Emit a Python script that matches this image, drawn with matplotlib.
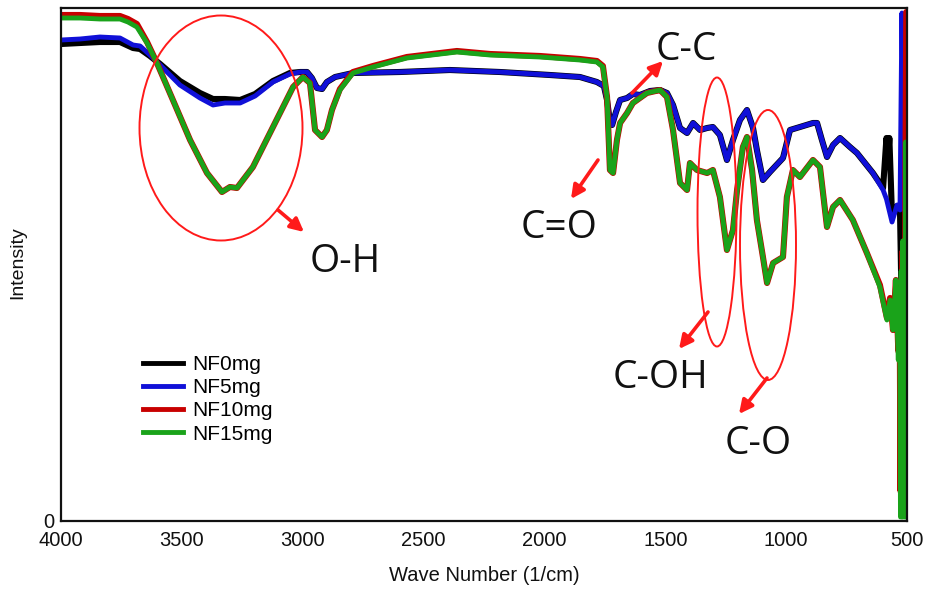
import matplotlib
matplotlib.use("Agg")
import matplotlib.pyplot as plt
from matplotlib.patches import Ellipse

# ---------------- data ----------------
# wavenumber grid for NF0mg / NF5mg (1/cm)
wn_upper = [4000, 3921, 3839, 3756, 3702, 3673, 3632, 3590, 3508, 3425, 3371, 3322,
            3259, 3197, 3123, 3053, 3011, 2982, 2962, 2941, 2920, 2900, 2866, 2792,
            2598, 2391, 2184, 1977, 1853, 1783, 1754, 1741, 1729, 1720, 1704, 1687,
            1658, 1634, 1605, 1563, 1522, 1493, 1468, 1439, 1410, 1385, 1356, 1327,
            1303, 1274, 1245, 1220, 1191, 1162, 1137, 1121, 1096, 1067, 1013, 984,
            943, 889, 872, 852, 831, 806, 777, 736, 707, 641, 599, 585, 579, 573,
            562, 541, 529, 521, 512, 505, 500]
nf0 = [477, 478, 479, 479, 473, 472, 465, 457, 440, 428, 422, 422,
       421, 427, 440, 448, 449, 449, 443, 433, 432, 439, 444, 448,
       449, 451, 449, 446, 444, 439, 435, 421, 399, 396, 409, 421,
       423, 427, 426, 430, 431, 428, 416, 393, 388, 398, 391, 393,
       394, 386, 361, 381, 401, 411, 393, 371, 341, 349, 363, 391,
       394, 398, 398, 381, 364, 376, 383, 374, 368, 348, 333, 383, 360, 383,
       305, 315, 310, 200, 41, 150, 280]
nf5 = [481, 482, 484, 483, 476, 475, 466, 456, 436, 423, 416, 418,
       418, 425, 439, 447, 449, 449, 443, 433, 432, 439, 444, 448,
       449, 451, 449, 446, 444, 439, 435, 421, 399, 396, 409, 421,
       423, 427, 426, 430, 431, 428, 416, 393, 388, 398, 391, 393,
       394, 386, 361, 381, 401, 411, 393, 371, 341, 349, 363, 391,
       394, 398, 398, 381, 364, 376, 383, 374, 368, 348, 331, 322, 316, 310,
       299, 316, 311, 508, 316, 305, 311]

# wavenumber grid for NF10mg / NF15mg (1/cm)
wn_lower = [4000, 3921, 3839, 3756, 3723, 3686, 3644, 3603, 3537, 3466, 3396, 3334,
            3301, 3272, 3206, 3123, 3040, 2999, 2970, 2949, 2920, 2900, 2879, 2846,
            2792, 2709, 2569, 2362, 2225, 2018, 1853, 1783, 1758, 1741, 1729, 1716,
            1700, 1687, 1658, 1634, 1576, 1522, 1493, 1468, 1439, 1410, 1398, 1369,
            1327, 1303, 1274, 1245, 1220, 1203, 1179, 1162, 1141, 1121, 1096, 1079,
            1054, 1013, 997, 972, 943, 889, 860, 831, 806, 777, 724, 666, 612, 583,
            570, 558, 546, 536, 530, 527, 524, 521, 518, 515, 512, 509, 506, 503,
            500]
nf10 = [506, 506, 505, 505, 502, 497, 479, 458, 421, 381, 348, 329,
        334, 333, 354, 394, 434, 444, 438, 391, 384, 391, 411, 432,
        449, 455, 464, 470, 467, 465, 462, 460, 455, 424, 351, 348,
        381, 398, 408, 418, 428, 431, 424, 391, 338, 331, 358, 351,
        348, 351, 324, 271, 291, 331, 374, 384, 351, 301, 264, 238,
        258, 264, 324, 351, 344, 361, 354, 294, 314, 321, 301, 268, 236, 203,
        223, 191, 241, 170, 200, 30, 240, 30, 270, 30, 280, 60, 370, 509,
        509]
nf15 = [503, 503, 502, 502, 499, 494, 478, 458, 421, 381, 348, 329,
        334, 333, 354, 394, 434, 444, 438, 391, 384, 391, 411, 431,
        448, 454, 463, 469, 466, 464, 461, 459, 454, 424, 351, 348,
        381, 398, 408, 418, 428, 431, 424, 391, 338, 331, 358, 351,
        348, 351, 324, 271, 291, 331, 374, 384, 351, 301, 264, 238,
        258, 264, 324, 351, 344, 361, 354, 294, 314, 321, 301, 268, 234, 201,
        221, 191, 241, 161, 221, 4, 250, 4, 280, 4, 280, 4, 379, 4,
        281]

labels = ["NF0mg", "NF5mg", "NF10mg", "NF15mg"]
x_ticks = [4000, 3500, 3000, 2500, 2000, 1500, 1000, 500]

# annotation labels
band_labels = ["O-H", "C-C", "C=O", "C-OH", "C-O"]

# ---------------- figure ----------------
W, H = 929, 594
fig = plt.figure(figsize=(W / 100, H / 100), dpi=100)
ax = fig.add_axes([61 / W, 1 - 521 / H, (907 - 61) / W, (521 - 8) / H])

c_black, c_blue, c_red, c_green = "#000000", "#1010d8", "#c80000", "#1aa31a"
ax.plot(wn_upper, nf0, color=c_black, lw=4.4, label=labels[0], solid_joinstyle="round")
ax.plot(wn_upper, nf5, color=c_blue, lw=3.5, label=labels[1], solid_joinstyle="round")
ax.plot(wn_lower, nf10, color=c_red, lw=4.4, label=labels[2], solid_joinstyle="round")
ax.plot(wn_lower, nf15, color=c_green, lw=3.5, label=labels[3], solid_joinstyle="round")

ax.set_xlim(4000, 500)
ax.set_ylim(0, 513)
ax.set_xticks(x_ticks)
ax.set_xticklabels([str(t) for t in x_ticks])
ax.set_yticks([0])
ax.set_yticklabels(["0"])
ax.tick_params(axis="both", length=0, labelsize=14.5, pad=7, labelcolor="#111111")
ax.tick_params(axis="y", pad=5)
for tl in ax.get_xticklabels() + ax.get_yticklabels():
    tl.set_family("Liberation Sans")
for s in ax.spines.values():
    s.set_linewidth(1.6)
    s.set_color("#111111")

ax.set_xlabel("Wave Number (1/cm)", fontsize=14.5, family="Liberation Sans", color="#111111")
ax.xaxis.set_label_coords(0.5, -0.088)
ax.set_ylabel("Intensity", fontsize=14, family="Liberation Sans", color="#111111")
ax.yaxis.set_label_coords(-0.041, 0.503)

leg = ax.legend(loc="upper left", bbox_to_anchor=(143 / W, 1 - 355 / H),
                bbox_transform=fig.transFigure, frameon=False, borderpad=0,
                borderaxespad=0, handlelength=1.9, handletextpad=0.45,
                labelspacing=0.2, prop={"family": "Liberation Sans", "size": 15})
for line in leg.get_lines():
    line.set_linewidth(3.5)

# ---------------- annotation overlay (figure pixel coordinates) ----------------
ov = fig.add_axes([0, 0, 1, 1], zorder=5)
ov.set_xlim(0, W)
ov.set_ylim(H, 0)
ov.axis("off")
ov.patch.set_alpha(0)

ellipses = [((221, 128), 163, 225), ((717, 212), 39, 269), ((768, 245), 56, 270)]
for (cx, cy), w, h in ellipses:
    ov.add_patch(Ellipse((cx, cy), w, h, fill=False, edgecolor="#ff1a1a", lw=1.4))

arrows = [((278, 210), (304, 232)), ((632, 93), (663, 61)), ((598, 160), (571, 199)),
          ((708, 312), (679, 349)), ((767, 378), (739, 414))]
for start, end in arrows:
    ov.annotate("", xy=end, xytext=start,
                arrowprops=dict(arrowstyle="-|>", color="#ff1a1a", lw=2.6,
                                mutation_scale=20, shrinkA=0, shrinkB=0))

text_pos = [(345, 262), (686, 50), (559, 228), (661, 378), (758, 444)]
for lab, (tx, ty) in zip(band_labels, text_pos):
    ov.text(tx, ty, lab, fontsize=28, family="Open Sans", ha="center", va="center",
            color="#111111")

fig.savefig("out.png", dpi=100)
